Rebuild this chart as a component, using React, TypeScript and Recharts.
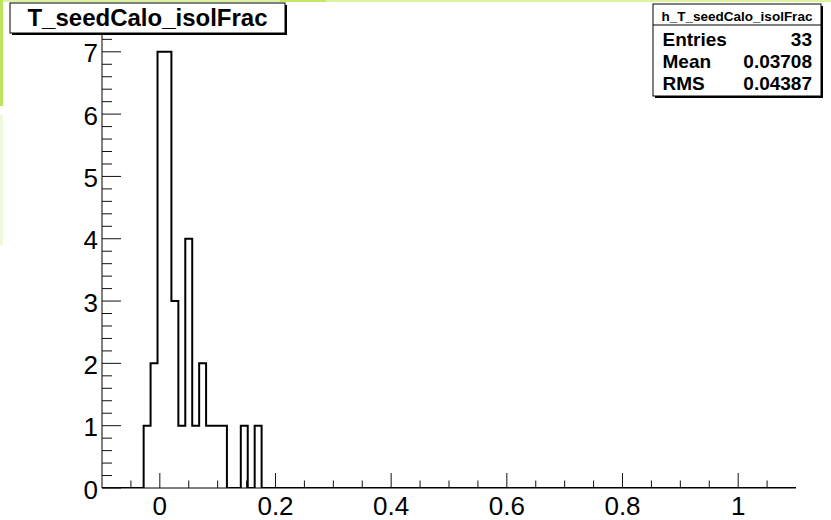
import React from "react";
import { ComposedChart, Line, XAxis, YAxis } from "recharts";

// Histogram definition (ROOT TH1: 100 bins from -0.1 to 1.1)
const histMin = -0.1;
const histMax = 1.1;
const binLowEdges = [
  -0.028, -0.016, -0.004, 0.008, 0.02, 0.032, 0.044, 0.056, 0.068, 0.08, 0.092,
  0.104, 0.116, 0.128, 0.14, 0.152, 0.164,
];
const binHighEdge = 0.176;
const binCounts = [1, 2, 7, 7, 3, 1, 4, 1, 2, 1, 1, 1, 0, 0, 1, 0, 1];

// Axis ticks
const xTicks = [
  -0.05, 0, 0.05, 0.1, 0.15, 0.2, 0.25, 0.3, 0.35, 0.4, 0.45, 0.5, 0.55, 0.6,
  0.65, 0.7, 0.75, 0.8, 0.85, 0.9, 0.95, 1, 1.05,
];
const yTicks = [
  0, 0.2, 0.4, 0.6, 0.8, 1, 1.2, 1.4, 1.6, 1.8, 2, 2.2, 2.4, 2.6, 2.8, 3, 3.2,
  3.4, 3.6, 3.8, 4, 4.2, 4.4, 4.6, 4.8, 5, 5.2, 5.4, 5.6, 5.8, 6, 6.2, 6.4, 6.6,
  6.8, 7, 7.2,
];
const yMax = 7.35;

// Texts
const titleText = "T_seedCalo_isolFrac";
const statsName = "h_T_seedCalo_isolFrac";
const statsLabels = ["Entries", "Mean", "RMS"];
const statsValues = ["33", "0.03708", "0.04387"];

const data = [
  { x: histMin, y: 0 },
  ...binLowEdges.map((e, i) => ({ x: e, y: binCounts[i] })),
  { x: binHighEdge, y: 0 },
  { x: histMax, y: 0 },
];

const FONT = '"Liberation Sans", Arial, Helvetica, sans-serif';

const isMajorX = (v: number) => Math.abs(v / 0.2 - Math.round(v / 0.2)) < 1e-6;
const isMajorY = (v: number) => Math.abs(v - Math.round(v)) < 1e-6;
const fmtX = (v: number) => String(Math.round(v * 10) / 10);

const XTickBottom = (props: any) => {
  const { x, y, payload } = props;
  const v = payload.value as number;
  const major = isMajorX(v);
  return (
    <g>
      <line x1={x} x2={x} y1={y} y2={y - (major ? 15 : 7.5)} stroke="#111" strokeWidth={1} />
      {major && (
        <text x={x} y={y + 27} textAnchor="middle" fontSize={26} fontFamily={FONT} fill="#000">
          {fmtX(v)}
        </text>
      )}
    </g>
  );
};

const XTickTop = (props: any) => {
  const { x, y, payload } = props;
  const major = isMajorX(payload.value as number);
  return <line x1={x} x2={x} y1={y} y2={y + (major ? 15 : 7.5)} stroke="#111" strokeWidth={1} />;
};

const YTickLeft = (props: any) => {
  const { x, y, payload } = props;
  const v = payload.value as number;
  const major = isMajorY(v);
  return (
    <g>
      <line x1={x} x2={x + (major ? 19 : 10)} y1={y} y2={y} stroke="#111" strokeWidth={1} />
      {major && (
        <text x={x - 4} y={y + 10.5} textAnchor="end" fontSize={26} fontFamily={FONT} fill="#000">
          {String(Math.round(v))}
        </text>
      )}
    </g>
  );
};

const YTickRight = (props: any) => {
  const { x, y, payload } = props;
  const major = isMajorY(payload.value as number);
  return <line x1={x} x2={x - (major ? 19 : 10)} y1={y} y2={y} stroke="#111" strokeWidth={1} />;
};

export default function App() {
  return (
    <div
      style={{
        position: "absolute",
        left: 0,
        top: 0,
        width: 831,
        height: 520,
        background: "#fff",
        overflow: "hidden",
      }}
    >
      <ComposedChart
        width={831}
        height={520}
        data={data}
        margin={{ top: 30, right: 35, bottom: 0, left: 0 }}
      >
        <XAxis
          dataKey="x"
          type="number"
          domain={[histMin, histMax]}
          allowDataOverflow
          ticks={xTicks}
          interval={0}
          height={32}
          tickSize={0}
          tickMargin={0}
          tickLine={false}
          axisLine={{ stroke: "#000", strokeWidth: 1 }}
          tick={<XTickBottom />}
        />
        <XAxis
          xAxisId="top"
          orientation="top"
          dataKey="x"
          type="number"
          domain={[histMin, histMax]}
          allowDataOverflow
          ticks={xTicks}
          interval={0}
          height={0}
          tickSize={0}
          tickMargin={0}
          tickLine={false}
          axisLine={{ stroke: "#000", strokeWidth: 1 }}
          tick={<XTickTop />}
        />
        <YAxis
          type="number"
          domain={[0, yMax]}
          allowDataOverflow
          ticks={yTicks}
          interval={0}
          width={102}
          tickSize={0}
          tickMargin={0}
          tickLine={false}
          axisLine={{ stroke: "#000", strokeWidth: 1 }}
          tick={<YTickLeft />}
        />
        <YAxis
          yAxisId="right"
          orientation="right"
          type="number"
          domain={[0, yMax]}
          allowDataOverflow
          ticks={yTicks}
          interval={0}
          width={0}
          tickSize={0}
          tickMargin={0}
          tickLine={false}
          axisLine={{ stroke: "#000", strokeWidth: 1 }}
          tick={<YTickRight />}
        />
        <Line
          dataKey="y"
          type="stepAfter"
          stroke="#000"
          strokeWidth={2}
          dot={false}
          activeDot={false}
          isAnimationActive={false}
        />
      </ComposedChart>

      <svg
        width={831}
        height={520}
        style={{ position: "absolute", left: 0, top: 0, pointerEvents: "none" }}
      >
        {/* canvas decorations */}
        <rect x={0} y={0} width={831} height={2} fill="#dcf29e" />
        <rect x={280} y={0} width={46} height={2} fill="#c2e866" />
        <rect x={0} y={0} width={3} height={106} fill="#b9e45c" />
        <rect x={0} y={115} width={3} height={130} fill="#eef8dc" />

        {/* title pave */}
        <rect x={12} y={5} width={275} height={30} fill="#000" />
        <rect x={10} y={3} width={275} height={30} fill="#fff" stroke="#000" strokeWidth={1} />
        <text
          x={147.5}
          y={26}
          textAnchor="middle"
          fontSize={24}
          fontWeight="bold"
          fontFamily={FONT}
          fill="#000"
        >
          {titleText}
        </text>

        {/* stats box */}
        <rect x={655} y={6} width={168} height={92} fill="#000" />
        <rect x={653} y={4} width={168} height={92} fill="#fff" stroke="#000" strokeWidth={1} />
        <line x1={653} x2={821} y1={25} y2={25} stroke="#000" strokeWidth={1} />
        <text
          x={737}
          y={20.5}
          textAnchor="middle"
          fontSize={13.5}
          fontWeight="bold"
          fontFamily={FONT}
          fill="#000"
        >
          {statsName}
        </text>
        {statsLabels.map((lab, i) => (
          <g key={lab}>
            <text
              x={662.5}
              y={45.5 + i * 22.3}
              fontSize={19}
              fontWeight="bold"
              fontFamily={FONT}
              fill="#000"
            >
              {lab}
            </text>
            <text
              x={812}
              y={45.5 + i * 22.3}
              textAnchor="end"
              fontSize={19}
              fontWeight="bold"
              fontFamily={FONT}
              fill="#000"
            >
              {statsValues[i]}
            </text>
          </g>
        ))}
      </svg>
    </div>
  );
}
